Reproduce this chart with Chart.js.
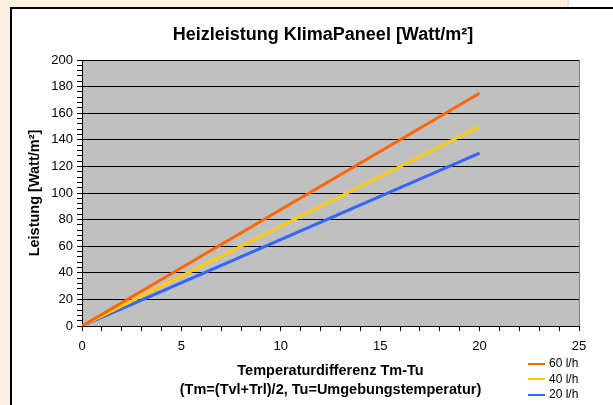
<!DOCTYPE html>
<html>
<head>
<meta charset="utf-8">
<script src="https://cdn.jsdelivr.net/npm/chart.js@4.4.0/dist/chart.umd.min.js"></script>
<style>
  html, body { margin: 0; padding: 0; }
  body { width: 613px; height: 405px; background: #fdf0e0; position: relative; overflow: hidden;
         font-family: "Liberation Sans", Arial, sans-serif; }
  #topright { position: absolute; left: 567px; top: 0; width: 46px; height: 8px; background: #fff;
              border-left: 2px solid #fbd9b8; }
  #box { position: absolute; left: 10px; top: 7px; right: 0; bottom: 0; background: #fff;
         border-left: 2px solid #000; border-top: 2px solid #000; }
  #chart { position: absolute; left: 0; top: 0; }
  #title { position: absolute; left: 0; width: 646px; top: 24px; text-align: center;
           font-weight: bold; font-size: 18px; color: #000; }
  #legend { position: absolute; left: 528px; top: 356px; font-size: 12px; color: #000; }
  #legend div { height: 15.5px; line-height: 15.5px; white-space: nowrap; }
  #legend span { display: inline-block; width: 17px; height: 2px; vertical-align: middle; margin-right: 4px; }
</style>
</head>
<body>
<div id="topright"></div>
<div id="box"></div>
<canvas id="chart" width="613" height="405"></canvas>
<div id="title">Heizleistung KlimaPaneel [Watt/m²]</div>
<div id="legend"></div>
<script>
// Temperaturdifferenz Tm-Tu
const tempDiff = [0, 20];
// Heizleistung in Watt/m² je Durchfluss
const flow60 = [0, 175];
const flow40 = [0, 150];
const flow20 = [0, 130];
const seriesNames = ["60 l/h", "40 l/h", "20 l/h"];
const seriesColors = ["#ff6600", "#ffcc00", "#3366ff"];

const seriesValues = [flow60, flow40, flow20];

function points(vals) {
    return tempDiff.map((t, i) => ({ x: t, y: vals[i] }));
}

const plotBg = {
    id: "plotBg",
    beforeDraw(chart) {
        const { ctx, chartArea: a } = chart;
        ctx.save();
        ctx.fillStyle = "#c0c0c0";
        ctx.fillRect(a.left, a.top, a.right - a.left, a.bottom - a.top);
        ctx.strokeStyle = "#808080";
        ctx.lineWidth = 1;
        ctx.beginPath();
        ctx.moveTo(a.right + 0.5, a.top);
        ctx.lineTo(a.right + 0.5, a.bottom);
        ctx.stroke();
        ctx.restore();
    }
};

const tickFont = { family: "'Liberation Sans', Arial, sans-serif", size: 13 };
const titleFont = { family: "'Liberation Sans', Arial, sans-serif", size: 14.5, weight: "bold", lineHeight: "19px" };

new Chart(document.getElementById("chart"), {
    type: "scatter",
    data: {
        datasets: seriesValues.map((vals, i) => ({
            label: seriesNames[i],
            data: points(vals),
            showLine: true,
            borderColor: seriesColors[i],
            backgroundColor: seriesColors[i],
            borderWidth: 3,
            pointRadius: 0,
            order: i
        }))
    },
    options: {
        responsive: false,
        animation: false,
        layout: { padding: { left: 20, top: 60, right: 34, bottom: 0 } },
        plugins: { legend: { display: false }, title: { display: false }, tooltip: { enabled: false } },
        scales: {
            x: {
                type: "linear",
                min: 0, max: 25,
                afterFit: s => { s.height = 79; },
                ticks: {
                    stepSize: 1, autoSkip: false, maxRotation: 0, padding: 8,
                    color: "#000", font: tickFont,
                    callback: v => (v % 5 === 0 ? v : "")
                },
                grid: {
                    color: "transparent", tickColor: "#000", tickLength: 5, drawOnChartArea: false
                },
                border: { color: "#000", width: 1 },
                title: {
                    display: true,
                    text: ["Temperaturdifferenz Tm-Tu", "(Tm=(Tvl+Trl)/2, Tu=Umgebungstemperatur)"],
                    color: "#000",
                    font: titleFont,
                    padding: { top: 0, bottom: 6 }
                }
            },
            y: {
                min: 0, max: 200,
                afterFit: s => { s.width = 62; },
                ticks: {
                    stepSize: 4, autoSkip: false, padding: 4,
                    color: "#000", font: tickFont,
                    callback: v => (v % 20 === 0 ? v : "")
                },
                grid: {
                    color: c => (c.tick && c.tick.value % 20 === 0 ? "#000" : "transparent"),
                    tickColor: "#000", tickLength: 5
                },
                border: { color: "#000", width: 1 },
                title: {
                    display: true,
                    text: "Leistung [Watt/m²]",
                    color: "#000",
                    font: titleFont,
                    padding: { top: 5, bottom: 0 }
                }
            }
        }
    },
    plugins: [plotBg]
});

const legend = document.getElementById("legend");
seriesNames.forEach((name, i) => {
    const row = document.createElement("div");
    row.innerHTML = '<span style="background:' + seriesColors[i] + '"></span>' + name;
    legend.appendChild(row);
});
</script>
</body>
</html>
